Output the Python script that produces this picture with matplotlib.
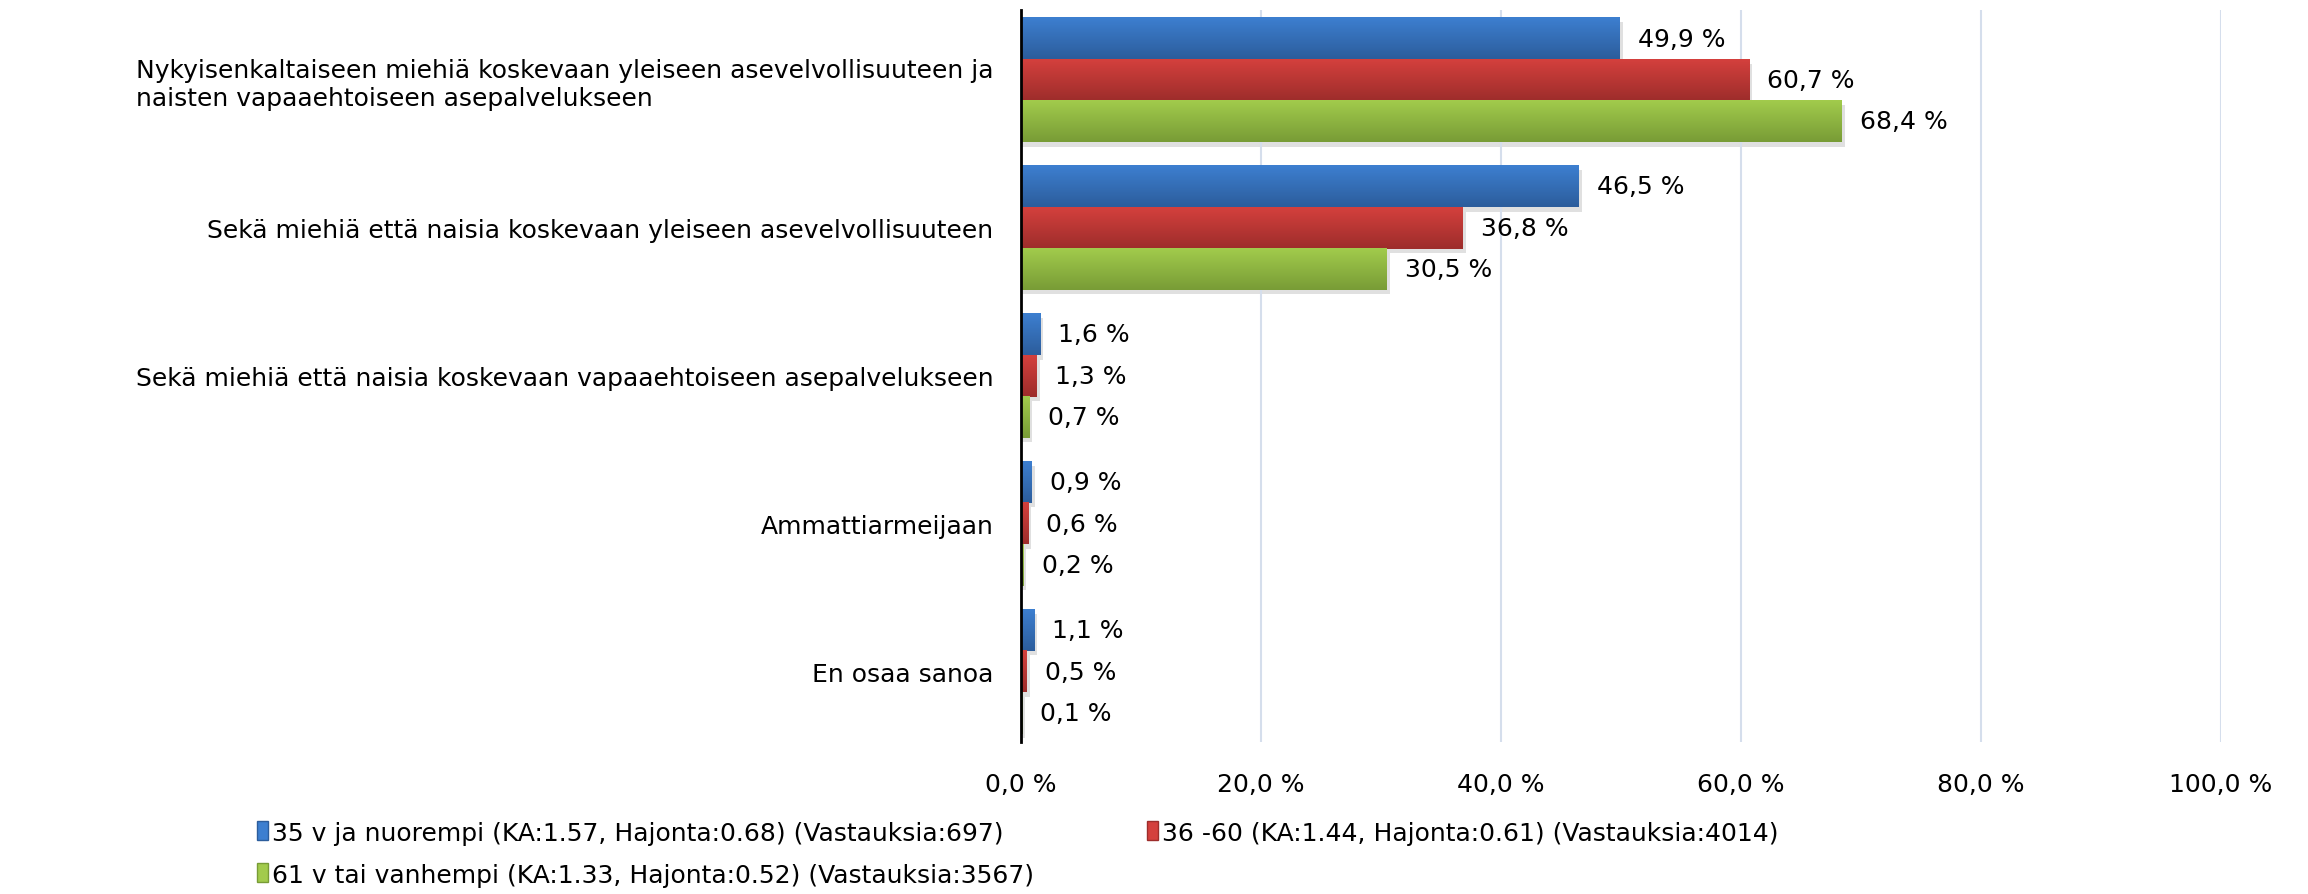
import numpy as np
import matplotlib
matplotlib.use("Agg")
import matplotlib.pyplot as plt
from matplotlib.colors import LinearSegmentedColormap
from matplotlib.patches import Patch

categories = [
    "Nykyisenkaltaiseen miehiä koskevaan yleiseen asevelvollisuuteen ja\nnaisten vapaaehtoiseen asepalvelukseen",
    "Sekä miehiä että naisia koskevaan yleiseen asevelvollisuuteen",
    "Sekä miehiä että naisia koskevaan vapaaehtoiseen asepalvelukseen",
    "Ammattiarmeijaan",
    "En osaa sanoa",
]
young = [49.9, 46.5, 1.6, 0.9, 1.1]
middle = [60.7, 36.8, 1.3, 0.6, 0.5]
old = [68.4, 30.5, 0.7, 0.2, 0.1]
series_names = [
    "35 v ja nuorempi (KA:1.57, Hajonta:0.68) (Vastauksia:697)",
    "36 -60 (KA:1.44, Hajonta:0.61) (Vastauksia:4014)",
    "61 v tai vanhempi (KA:1.33, Hajonta:0.52) (Vastauksia:3567)",
]
x_ticks = [0, 20, 40, 60, 80, 100]

# top / bottom colours of the gradient fill
colors = [("#3d7fd0", "#2c5d9c"), ("#d4403d", "#9d2d2b"), ("#a2cb4c", "#789c36")]

plt.rcParams["font.family"] = ["DejaVu Sans"]
fs = 18

fig = plt.figure(figsize=(23.08, 8.95), dpi=100)
ax = fig.add_axes([0.4424, 0.170, 0.5199, 0.818])

y = np.arange(len(categories))
h = 0.28
for k, vals in enumerate([young, middle, old]):
    bars = ax.barh(y + (k - 1) * h, vals, height=h, color=colors[k][1], zorder=2)
    cmap = LinearSegmentedColormap.from_list("g%d" % k, colors[k])
    grad = np.linspace(0, 1, 64).reshape(-1, 1)
    for rect, v in zip(bars, vals):
        x0, y0 = rect.get_xy()
        w, hh = rect.get_width(), rect.get_height()
        # soft shadow
        ax.add_patch(plt.Rectangle((x0, y0 + 0.03), w + 0.25, hh, color="#000000",
                                   alpha=0.12, zorder=1, lw=0))
        ax.imshow(grad, cmap=cmap, extent=[x0, x0 + w, y0 + hh, y0],
                  aspect="auto", zorder=3, interpolation="bilinear")
        lbl = ("%.1f %%" % v).replace(".", ",")
        ax.annotate(lbl, (v, rect.get_y() + hh / 2), xytext=(13, 0),
                    textcoords="offset points", va="center", ha="left", fontsize=fs)

ax.set_xlim(0, 100)
ax.set_ylim(len(categories) - 0.525, -0.475)
ax.set_xticks(x_ticks)
ax.set_xticklabels([("%.1f %%" % t).replace(".", ",") for t in x_ticks], fontsize=fs)
ax.set_yticks(y)
ax.set_yticklabels(categories, fontsize=fs)
ax.get_yticklabels()[0].set_multialignment("left")
ax.tick_params(axis="x", length=0, pad=22)
ax.tick_params(axis="y", length=0, pad=20)

ax.grid(axis="x", color="#d5deec", lw=1.5, zorder=0)
for s in ["top", "right", "bottom"]:
    ax.spines[s].set_visible(False)
ax.spines["left"].set_color("black")
ax.spines["left"].set_linewidth(2)
ax.spines["left"].set_zorder(5)

handles = [Patch(facecolor=c[0], edgecolor=c[1]) for c in colors]
order = [0, 2, 1]
fig.legend([handles[i] for i in order], [series_names[i] for i in order],
           ncol=2, loc="upper left", bbox_to_anchor=(0.106, 0.096), frameon=False,
           fontsize=fs, handlelength=0.45, handleheight=0.8, handletextpad=0.15,
           columnspacing=4.5, labelspacing=0.72, borderpad=0)

fig.savefig("out.png", dpi=100)
